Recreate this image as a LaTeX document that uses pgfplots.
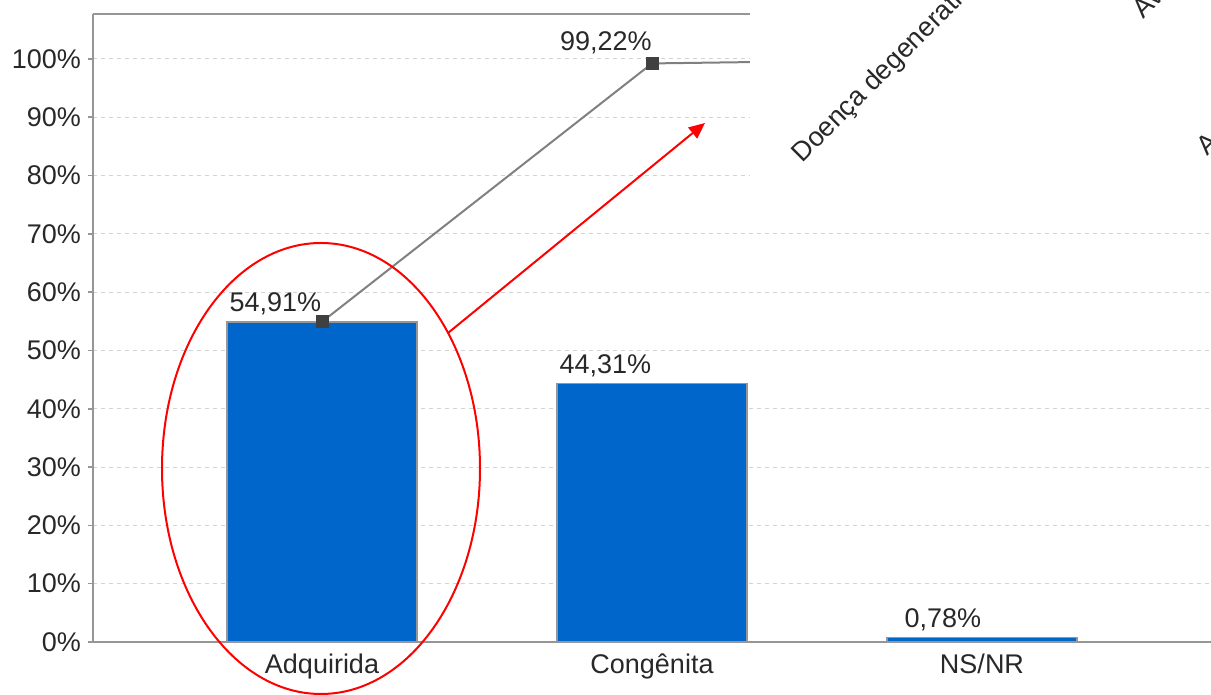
\documentclass[border=0pt]{standalone}
\usepackage{pgfplots}
\pgfplotsset{compat=1.18}
\usepackage{fontspec}
\setmainfont{Liberation Sans}
\usetikzlibrary{arrows.meta}
\definecolor{barblue}{RGB}{0,102,204}
\definecolor{axisgray}{RGB}{150,150,150}
\definecolor{gridgray}{RGB}{210,210,210}
\definecolor{linegray}{RGB}{128,128,128}
\definecolor{markgray}{RGB}{64,64,64}
\definecolor{txt}{RGB}{40,40,40}
\begin{document}
\begin{tikzpicture}[font=\fontsize{13.5}{16}\selectfont, text=txt]
\path[use as bounding box] (0,0) rectangle (605.5pt,347.5pt);
\clip (0,0) rectangle (605.5pt,347.5pt);
\begin{axis}[
  at={(46.5pt,26.5pt)}, anchor=south west,
  scale only axis, width=559pt, height=314pt,
  xmin=-0.694, xmax=2.694, ymin=0, ymax=107.7,
  xtick={0,1,2}, xticklabels={Adquirida,Congênita,NS/NR},
  ytick={0,10,20,30,40,50,60,70,80,90,100},
  yticklabels={0\%,10\%,20\%,30\%,40\%,50\%,60\%,70\%,80\%,90\%,100\%},
  tick label style={font=\fontsize{13.5}{16}\selectfont, text=txt},
  axis line style={draw=none},
  ymajorgrids,
  grid style={gridgray, dash pattern=on 2pt off 2pt, line width=0.5pt},
  tick align=outside, major tick length=2.5pt,
  xtick style={draw=none},
  ytick style={axisgray, line width=0.8pt},
  clip=false,
]
\addplot[ybar, bar width=95pt, fill=barblue, draw=axisgray, line width=0.8pt,
  nodes near coords, point meta=explicit symbolic,
  nodes near coords style={anchor=base east, inner sep=0pt, yshift=5pt, text=txt,
    font=\fontsize{13.5}{16}\selectfont}]
  coordinates {(0,54.91) [54,91\%] (1,44.31) [44,31\%] (2,0.78) [0,78\%]};
\addplot[linegray, line width=1pt, mark=square*, mark size=3pt,
  mark options={fill=markgray, draw=markgray, line width=0pt}]
  coordinates {(0,54.91) (1,99.22) (2,100)};
\node[anchor=base east, inner sep=0pt, yshift=6.5pt] at (axis cs:1,99.22) {99,22\%};
\draw[axisgray, line width=0.8pt] (rel axis cs:0,1) -- (rel axis cs:0,0) -- (rel axis cs:1,0);
\draw[axisgray, line width=0.8pt] (rel axis cs:0,1) -- (rel axis cs:1,1);
\end{axis}
\fill[white] (375pt,245pt) rectangle (606pt,348pt);
\node[rotate=45, anchor=base west, inner sep=0pt] at (401pt,265.5pt) {Doença degenerativa};
\node[rotate=45, anchor=base west, inner sep=0pt] at (571.5pt,337.5pt) {Av};
\node[rotate=45, anchor=base west, inner sep=0pt] at (603.5pt,269pt) {A};
\draw[red, line width=1pt] (160.5pt,113.25pt) ellipse [x radius=79.5pt, y radius=112.75pt];
\draw[red, line width=1pt, -{Triangle[length=8pt,width=7pt]}] (224pt,181pt) -- (352.5pt,286pt);
\end{tikzpicture}
\end{document}
